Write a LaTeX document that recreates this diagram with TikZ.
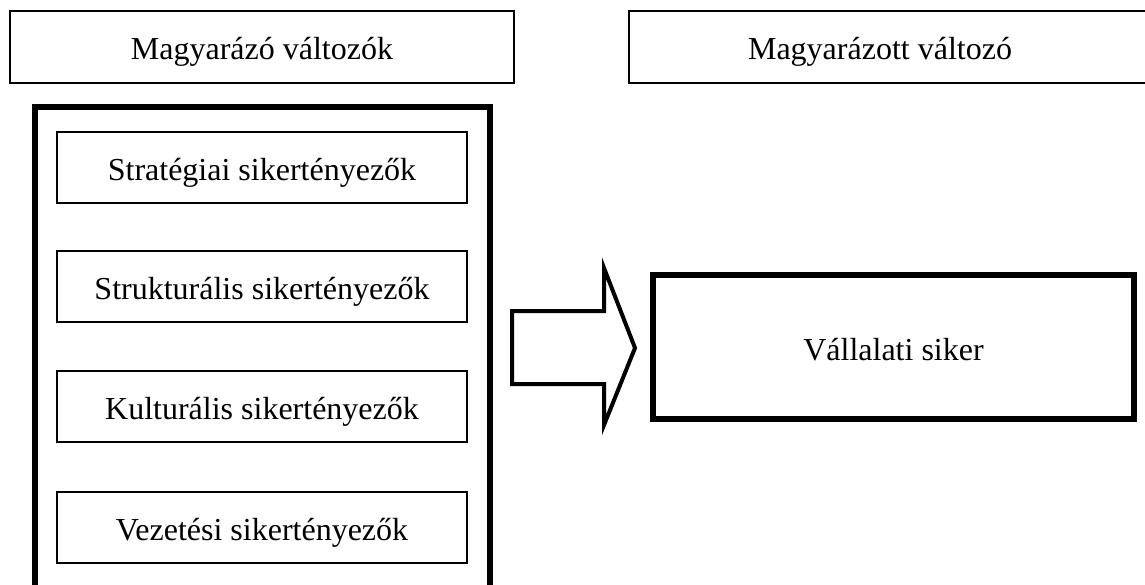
\documentclass[tikz,border=0pt]{standalone}
\usepackage{fontspec}
\setmainfont{Liberation Serif}
\begin{document}
\begin{tikzpicture}[x=1pt,y=-1pt,
  txt/.style={font=\fontsize{32}{38}\selectfont, text height=26pt, text depth=0pt, inner sep=0pt},
  hdr/.style={txt, draw, line width=1.3pt, minimum height=72pt},
  factor/.style={txt, draw, line width=2pt, minimum width=410pt, minimum height=71pt},
  frame/.style={draw, line width=6pt, inner sep=0pt},
  result/.style={txt, draw, line width=6pt, minimum width=481pt, minimum height=144pt},
  bigarrow/.style={draw, line width=4pt, line join=miter}]
\useasboundingbox (0,0) rectangle (1145,585);
\clip (0,0) rectangle (1145,585);

% column headers
\node[hdr, minimum width=504pt] (hdrL) at (262,47) {Magyarázó változók};
\node[hdr, minimum width=531pt] (hdrR) at (894.5,47) {};
\node[txt] (hdrRtext) at (880,47) {Magyarázott változó};

% frame around the explanatory factors
\node[frame, minimum width=455.5pt, minimum height=493pt] (group) at (262.25,353.5) {};

% explanatory factors
\node[factor] (f1) at (262,167.5) {Stratégiai sikertényezők};
\node[factor] (f2) at (262,286.5) {Strukturális sikertényezők};
\node[factor] (f3) at (262,406) {Kulturális sikertényezők};
\node[factor] (f4) at (262,527.5) {Vezetési sikertényezők};

% explained variable
\node[result] (res) at (893.5,347) {Vállalati siker};

% block arrow between the frame and the result
\draw[bigarrow] (512,311) -- (604,311) -- (604,268) -- (635,348)
  -- (604,425) -- (604,384) -- (512,384) -- cycle;
\end{tikzpicture}
\end{document}
